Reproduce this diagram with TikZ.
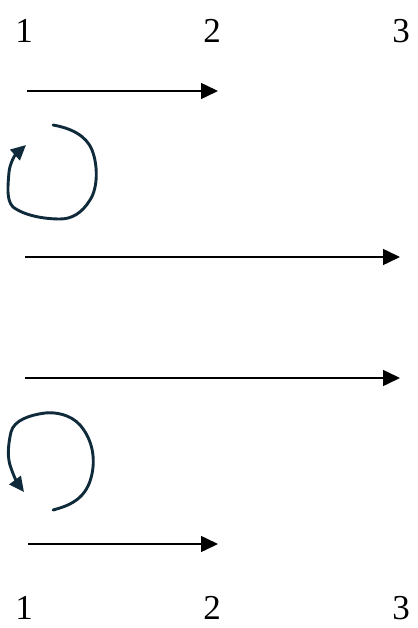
\documentclass[tikz,border=0pt]{standalone}
\usepackage{fontspec}
\setmainfont{Liberation Serif}
\usetikzlibrary{arrows.meta}
\definecolor{loopc}{HTML}{0F2A3A}
\begin{document}
\begin{tikzpicture}[x=1pt,y=-1pt,
  num/.style={font=\fontsize{35}{38}\selectfont, inner sep=0pt},
  flow/.style={line width=1.5pt,-{Triangle[length=17pt,width=16pt]}},
  loopline/.style={loopc,line width=2.9pt,line cap=round,line join=round,-{Triangle[length=15pt,width=14pt]}}]
\useasboundingbox (0,0) rectangle (417,628);
% top labels
\node[num] (t1) at (24,31) {1};
\node[num] (t2) at (212,31) {2};
\node[num] (t3) at (401,31) {3};
% bottom labels
\node[num] (b1) at (24,608) {1};
\node[num] (b2) at (212,608) {2};
\node[num] (b3) at (401,608) {3};
% arrows
\coordinate (a1s) at (27,91);  \coordinate (a1e) at (218,91);
\coordinate (a2s) at (25,257); \coordinate (a2e) at (400,257);
\coordinate (a3s) at (25,378); \coordinate (a3e) at (400,378);
\coordinate (a4s) at (28,544); \coordinate (a4e) at (218,544);
\draw[flow] (a1s) -- (a1e);
\draw[flow] (a2s) -- (a2e);
\draw[flow] (a3s) -- (a3e);
\draw[flow] (a4s) -- (a4e);
% loop 1
\draw[loopline] (53,125) .. controls (70,128) and (86,135) .. (92,150)
  .. controls (98,165) and (98,188) .. (90,200)
  .. controls (82,213) and (72,219) .. (60,219)
  .. controls (45,219) and (25,216) .. (13,207)
  .. controls (6,200) and (8,185) .. (9,172)
  .. controls (10,163) and (15,155) .. (26,145);
% loop 2
\draw[loopline] (53,510) .. controls (68,506) and (85,500) .. (91,478)
  .. controls (96,460) and (93,440) .. (80,425)
  .. controls (70,414) and (55,412) .. (45,413)
  .. controls (30,415) and (14,420) .. (11,432)
  .. controls (8,445) and (7,458) .. (11,468)
  .. controls (14,477) and (18,484) .. (24,492);
\end{tikzpicture}
\end{document}
